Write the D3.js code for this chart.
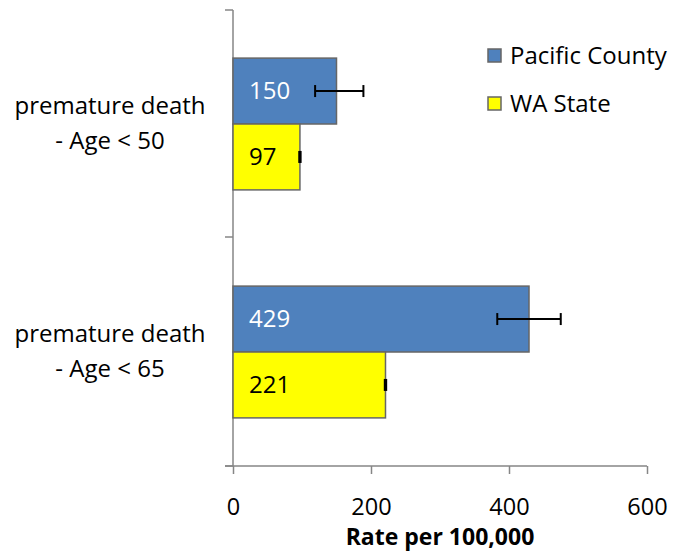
<!DOCTYPE html>
<html lang="en">
<head>
    <meta charset="UTF-8">
    <title>Premature death</title>
    <script src="https://d3js.org/d3.v7.min.js"></script>
    <style>
        body { margin: 0; background: #fff; }
        svg { display: block; font-family: 'Open Sans', sans-serif; }
    </style>
</head>
<body>
<svg id="chart" width="673" height="557"></svg>
<script>
    // data
    var categories = ["premature death|- Age < 50", "premature death|- Age < 65"];
    var seriesNames = ["Pacific County", "WA State"];
    var pacific = [150, 429];
    var waState = [97, 221];
    var pacificLow = [119, 383];
    var pacificHigh = [189, 475];
    var waLow = [96, 220];
    var waHigh = [98, 222];
    var xTicks = [0, 200, 400, 600];

    var colors = ["#4f81bd", "#ffff00"];
    var textColors = ["#ffffff", "#000000"];

    var svg = d3.select("#chart");

    var x = d3.scaleLinear().domain([0, 600]).range([233, 647]);
    var y0 = d3.scaleBand().domain(categories).range([10, 466]);
    var y1 = d3.scaleBand().domain(seriesNames).range([0, y0.bandwidth()]).paddingOuter(0.73);

    var rows = categories.map((c, i) => ({
        cat: c,
        vals: [
            { s: seriesNames[0], v: pacific[i], lo: pacificLow[i], hi: pacificHigh[i], k: 0 },
            { s: seriesNames[1], v: waState[i], lo: waLow[i], hi: waHigh[i], k: 1 }
        ]
    }));

    // axes
    var xAxis = svg.append("g")
        .attr("transform", "translate(0,466)")
        .call(d3.axisBottom(x).tickValues(xTicks).tickSize(8).tickPadding(24));
    xAxis.select(".domain").attr("d", "M225,0H647");
    xAxis.selectAll("line").attr("stroke", "#868686").attr("stroke-width", 1.5);
    xAxis.select(".domain").attr("stroke", "#868686").attr("stroke-width", 1.5);
    xAxis.selectAll("text").attr("font-size", 23.5).attr("fill", "#000").attr("font-family", "'Open Sans', sans-serif");

    var yTickPos = [10, 237, 466];
    svg.append("line").attr("x1", 233).attr("x2", 233).attr("y1", 10).attr("y2", 466)
        .attr("stroke", "#868686").attr("stroke-width", 1.5);
    svg.selectAll(".ytick").data(yTickPos).enter().append("line")
        .attr("x1", 225).attr("x2", 233).attr("y1", d => d).attr("y2", d => d)
        .attr("stroke", "#868686").attr("stroke-width", 1.5);

    // category labels
    rows.forEach(r => {
        var cy = y0(r.cat) + y0.bandwidth() / 2;
        var lines = r.cat.split("|");
        svg.append("text").attr("x", 110).attr("y", cy - 10)
            .attr("text-anchor", "middle").attr("font-size", 24).text(lines[0]);
        svg.append("text").attr("x", 110).attr("y", cy + 25)
            .attr("text-anchor", "middle").attr("font-size", 24).text(lines[1]);
    });

    // bars
    var groups = svg.selectAll(".grp").data(rows).enter().append("g")
        .attr("transform", d => "translate(0," + y0(d.cat) + ")");

    groups.selectAll("rect").data(d => d.vals).enter().append("rect")
        .attr("x", x(0))
        .attr("y", d => y1(d.s))
        .attr("width", d => x(d.v) - x(0))
        .attr("height", y1.bandwidth())
        .attr("fill", d => colors[d.k])
        .attr("stroke", "#666")
        .attr("stroke-width", 1.5);

    groups.selectAll(".val").data(d => d.vals).enter().append("text")
        .attr("x", x(0) + 16)
        .attr("y", d => y1(d.s) + y1.bandwidth() / 2)
        .attr("dy", "0.35em")
        .attr("font-size", 24)
        .attr("fill", d => textColors[d.k])
        .text(d => d.v);

    // error bars
    var eb = groups.selectAll(".err").data(d => d.vals).enter().append("g")
        .attr("stroke", "#000").attr("stroke-width", 2);
    eb.append("line")
        .attr("x1", d => x(d.lo)).attr("x2", d => x(d.hi))
        .attr("y1", d => y1(d.s) + y1.bandwidth() / 2)
        .attr("y2", d => y1(d.s) + y1.bandwidth() / 2);
    eb.append("line")
        .attr("x1", d => x(d.lo)).attr("x2", d => x(d.lo))
        .attr("y1", d => y1(d.s) + y1.bandwidth() / 2 - 6)
        .attr("y2", d => y1(d.s) + y1.bandwidth() / 2 + 6);
    eb.append("line")
        .attr("x1", d => x(d.hi)).attr("x2", d => x(d.hi))
        .attr("y1", d => y1(d.s) + y1.bandwidth() / 2 - 6)
        .attr("y2", d => y1(d.s) + y1.bandwidth() / 2 + 6);

    // x title
    svg.append("text").attr("x", 440).attr("y", 545)
        .attr("text-anchor", "middle").attr("font-size", 23).attr("font-weight", "bold")
        .text("Rate per 100,000");

    // legend
    var legend = svg.selectAll(".leg").data(seriesNames).enter().append("g")
        .attr("transform", (d, i) => "translate(488," + (49 + i * 48) + ")");
    legend.append("rect").attr("width", 13).attr("height", 13)
        .attr("fill", (d, i) => colors[i]).attr("stroke", "#666").attr("stroke-width", 1.5);
    legend.append("text").attr("x", 22).attr("y", 7).attr("dy", "0.35em")
        .attr("font-size", 24).text(d => d);
</script>
</body>
</html>
